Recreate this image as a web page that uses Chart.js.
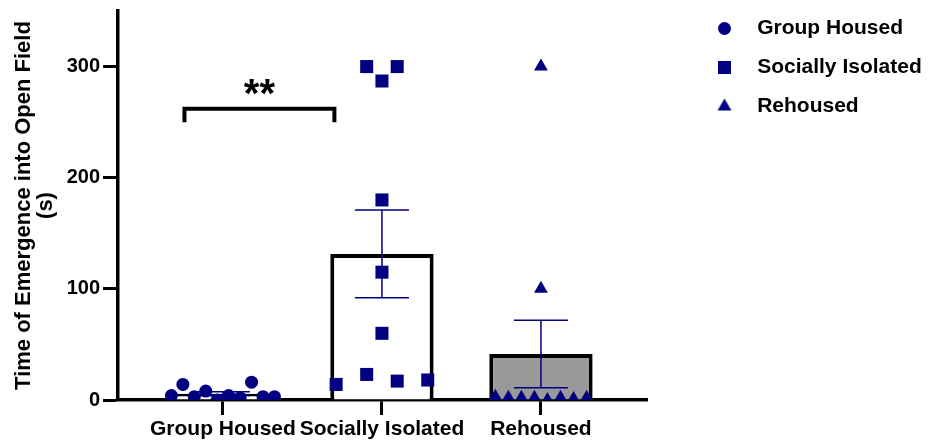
<!DOCTYPE html>
<html>
<head>
<meta charset="utf-8">
<script src="https://cdn.jsdelivr.net/npm/chart.js@4.4.1/dist/chart.umd.min.js"></script>
<style>
  html, body { margin: 0; padding: 0; background: #fff; }
  #wrap { width: 929px; height: 441px; }
</style>
</head>
<body>
<div id="wrap"><canvas id="chart" width="929" height="441"></canvas></div>
<script>
const categories = ['Group Housed', 'Socially Isolated', 'Rehoused'];
const groupHoused = [4, 14, 3, 8, 0, 4, 2, 16, 3, 3];
const sociallyIsolated = [14, 23, 300, 287, 180, 115, 60, 300, 17, 18];
const rehoused = [3, 2, 2, 2, 300, 100, 0, 2, 1, 2];
const yTicks = [0, 100, 200, 300];
const sigPair = ['Group Housed', 'Socially Isolated'];
const sigLabel = '**';
const sigHeight = 262;

const series = [groupHoused, sociallyIsolated, rehoused];
const navy = '#000080';

Chart.defaults.font.family = "'Liberation Sans', Arial, Helvetica, sans-serif";
Chart.defaults.font.weight = 'bold';
Chart.defaults.color = '#000';

function mean(a) {
    return a.reduce((s, v) => s + v, 0) / a.length;
}

function sem(a) {
    const m = mean(a);
    const v = a.reduce((s, x) => s + (x - m) * (x - m), 0) / (a.length - 1);
    return Math.sqrt(v / a.length);
}

// points with close values are laid out side by side in a row (like prism does)
function swarm(values, center, step) {
    const idx = values.map((v, i) => i).sort((a, b) => values[a] - values[b]);
    const rows = [];
    let cur = [];
    idx.forEach((i, k) => {
        if (k > 0 && values[i] - values[idx[k - 1]] >= 12) {
            rows.push(cur);
            cur = [];
        }
        cur.push(i);
    });
    rows.push(cur);
    const pts = [];
    rows.forEach(row => {
        row.sort((a, b) => a - b);
        row.forEach((i, j) => {
            pts.push({ x: center + (j - (row.length - 1) / 2) * step, y: values[i] });
        });
    });
    return pts;
}

const shapes = ['circle', 'rect', 'triangle'];
const radii = [6.5, 9.2, 8];
const steps = [0.072, 0.192, 0.082];

// legend marker drawn at the same size as the plotted points
function markerImage(style, r) {
    const size = Math.ceil(r * 2 + 2);
    const c = document.createElement('canvas');
    c.width = size;
    c.height = size;
    const g = c.getContext('2d');
    const m = size / 2;
    g.fillStyle = navy;
    g.beginPath();
    if (style === 'circle') {
        g.arc(m, m, r, 0, Math.PI * 2);
    } else if (style === 'rect') {
        const h = r * Math.SQRT1_2;
        g.rect(m - h, m - h, 2 * h, 2 * h);
    } else {
        g.moveTo(m, m - r);
        g.lineTo(m + r * 0.866, m + r / 2);
        g.lineTo(m - r * 0.866, m + r / 2);
    }
    g.closePath();
    g.fill();
    return c;
}

const pointSets = series.map((s, i) => ({
    type: 'scatter',
    label: categories[i],
    data: swarm(s, i + 1, steps[i]),
    pointStyle: shapes[i],
    pointRadius: radii[i],
    pointBackgroundColor: navy,
    pointBorderColor: navy,
    pointBorderWidth: 0,
    backgroundColor: navy,
    borderColor: navy,
    borderWidth: 0,
    order: 1
}));

const meanBars = {
    type: 'bar',
    label: 'Mean',
    data: series.map((s, i) => ({ x: i + 1, y: mean(s) })),
    backgroundColor: ['#ffffff', '#ffffff', '#999999'],
    borderColor: '#000',
    borderWidth: 4,
    barPercentage: 0.65,
    categoryPercentage: 1,
    order: 3
};

const errorBars = {
    id: 'errorBars',
    afterDatasetDraw(chart, args) {
        if (args.index !== 0) return;
        const { ctx, scales: { x, y } } = chart;
        ctx.save();
        ctx.strokeStyle = navy;
        ctx.lineWidth = 1.5;
        series.forEach((s, i) => {
            const m = mean(s), e = sem(s);
            const cx = x.getPixelForValue(i + 1);
            const half = x.getPixelForValue(i + 1.17) - cx;
            const top = y.getPixelForValue(m + e);
            const bot = y.getPixelForValue(m - e);
            ctx.beginPath();
            ctx.moveTo(cx, top); ctx.lineTo(cx, bot);
            ctx.moveTo(cx - half, top); ctx.lineTo(cx + half, top);
            ctx.moveTo(cx - half, bot); ctx.lineTo(cx + half, bot);
            ctx.stroke();
        });
        ctx.restore();
    }
};

const sigBracket = {
    id: 'sigBracket',
    afterDatasetsDraw(chart) {
        const { ctx, scales: { x, y } } = chart;
        const x1 = x.getPixelForValue(categories.indexOf(sigPair[0]) + 1 - 0.242);
        const x2 = x.getPixelForValue(categories.indexOf(sigPair[1]) + 1 - 0.299);
        const yTop = y.getPixelForValue(sigHeight);
        const yBot = y.getPixelForValue(sigHeight - 12);
        ctx.save();
        ctx.strokeStyle = '#000';
        ctx.lineWidth = 4;
        ctx.beginPath();
        ctx.moveTo(x1, yBot);
        ctx.lineTo(x1, yTop);
        ctx.lineTo(x2, yTop);
        ctx.lineTo(x2, yBot);
        ctx.stroke();
        ctx.fillStyle = '#000';
        ctx.font = "bold 40px 'Liberation Sans', Arial, sans-serif";
        ctx.textAlign = 'center';
        ctx.textBaseline = 'alphabetic';
        ctx.fillText(sigLabel, (x1 + x2) / 2, yTop - 2);
        ctx.restore();
    }
};

const ctx = document.getElementById('chart').getContext('2d');
const chart = new Chart(ctx, {
    type: 'bar',
    data: { datasets: [meanBars].concat(pointSets) },
    options: {
        responsive: false,
        animation: false,
        layout: { padding: 0 },
        plugins: {
            tooltip: { enabled: false },
            legend: {
                position: 'right',
                align: 'start',
                maxWidth: 233,
                labels: {
                    usePointStyle: true,
                    boxHeight: 10,
                    padding: 18,
                    color: '#000',
                    font: { size: 21, weight: 'bold' },
                    filter: item => item.datasetIndex > 0,
                    generateLabels: c => Chart.defaults.plugins.legend.labels.generateLabels(c)
                        .map(l => {
                            const k = l.datasetIndex - 1;
                            if (k >= 0) l.pointStyle = markerImage(shapes[k], radii[k]);
                            l.text = '  ' + l.text;
                            return l;
                        })
                }
            }
        },
        scales: {
            x: {
                type: 'linear',
                position: 'bottom',
                offset: false,
                min: 0.34,
                max: 3.667,
                afterBuildTicks: s => { s.ticks = categories.map((c, i) => ({ value: i + 1 })); },
                ticks: {
                    callback: v => categories[v - 1],
                    font: { size: 21, weight: 'bold' },
                    color: '#000',
                    padding: 2,
                    maxRotation: 0,
                    autoSkip: false
                },
                grid: { offset: false, drawOnChartArea: false, tickLength: 15, tickWidth: 3, tickColor: '#000' },
                border: { color: '#000', width: 3.5 },
                afterFit: s => { s.height = 41; }
            },
            y: {
                position: 'left',
                min: 0,
                max: 350,
                afterBuildTicks: s => { s.ticks = yTicks.map(v => ({ value: v })); },
                ticks: { font: { size: 20, weight: 'bold', lineHeight: 0.8 }, color: '#000', padding: 3 },
                grid: { drawOnChartArea: false, tickLength: 15, tickWidth: 3, tickColor: '#000' },
                border: { color: '#000', width: 3.5 },
                title: {
                    display: true,
                    text: ['Time of Emergence into Open Field', '(s)'],
                    font: { size: 22, weight: 'bold', lineHeight: 1.0 },
                    color: '#000',
                    padding: { top: 13, bottom: 0 }
                },
                afterFit: s => { s.width = 118; }
            },
            xTop: {
                axis: 'x',
                type: 'linear',
                position: 'top',
                ticks: { display: false },
                grid: { display: false },
                border: { display: false },
                afterFit: s => { s.height = 8; }
            },
            yRight: {
                axis: 'y',
                type: 'linear',
                position: 'right',
                ticks: { display: false },
                grid: { display: false },
                border: { display: false },
                afterFit: s => { s.width = 49; }
            }
        }
    },
    plugins: [errorBars, sigBracket]
});
</script>
</body>
</html>
